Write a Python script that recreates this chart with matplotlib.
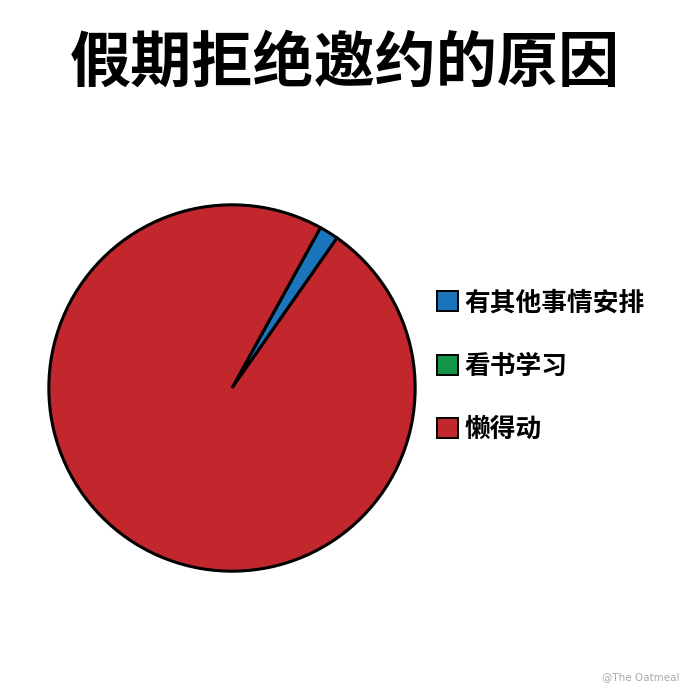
import matplotlib.pyplot as plt
from matplotlib.patches import Patch

plt.rcParams['font.family'] = ['Noto Sans CJK SC', 'DejaVu Sans']

title = "假期拒绝邀约的原因"
labels = ["有其他事情安排", "看书学习", "懒得动"]
values = [1.7, 0.0, 98.3]
colors = ["#1b75bc", "#139447", "#c1272d"]

W, H = 690, 690
fig = plt.figure(figsize=(W / 100, H / 100), dpi=100)
fig.patch.set_facecolor("white")

# pie axes placed in pixel terms: centre (232, 388), radius 185
cx, cy, r = 232, 388, 185
ax = fig.add_axes([(cx - r) / W, 1 - (cy + r) / H, 2 * r / W, 2 * r / H])

vals = [v for v in values if v > 0]
cols = [c for v, c in zip(values, colors) if v > 0]
ax.pie(vals, colors=cols, startangle=55, counterclock=True, radius=1,
       wedgeprops=dict(edgecolor="black", linewidth=2.2))
ax.set_xlim(-1.01, 1.01)
ax.set_ylim(-1.01, 1.01)
ax.set_aspect("equal")
ax.axis("off")

fig.text(345 / W, 1 - 64 / H, title, ha="center", va="center",
         fontsize=44, fontweight="bold")

handles = [Patch(facecolor=c, edgecolor="black", linewidth=1.4) for c in colors]
leg = fig.legend(handles, labels, loc="upper left",
                 bbox_to_anchor=(414 / W, 1 - 266 / H),
                 frameon=False, prop=dict(size=18.5, weight="bold"),
                 handlelength=0.8, handleheight=0.8, handletextpad=0.25,
                 labelspacing=1.42)

fig.text(680 / W, 1 - 677 / H, "@The Oatmeal", ha="right", va="center",
         fontsize=7.5, color="#aaaaaa", family=["DejaVu Sans"])

fig.savefig("out.png", dpi=100, facecolor="white")
